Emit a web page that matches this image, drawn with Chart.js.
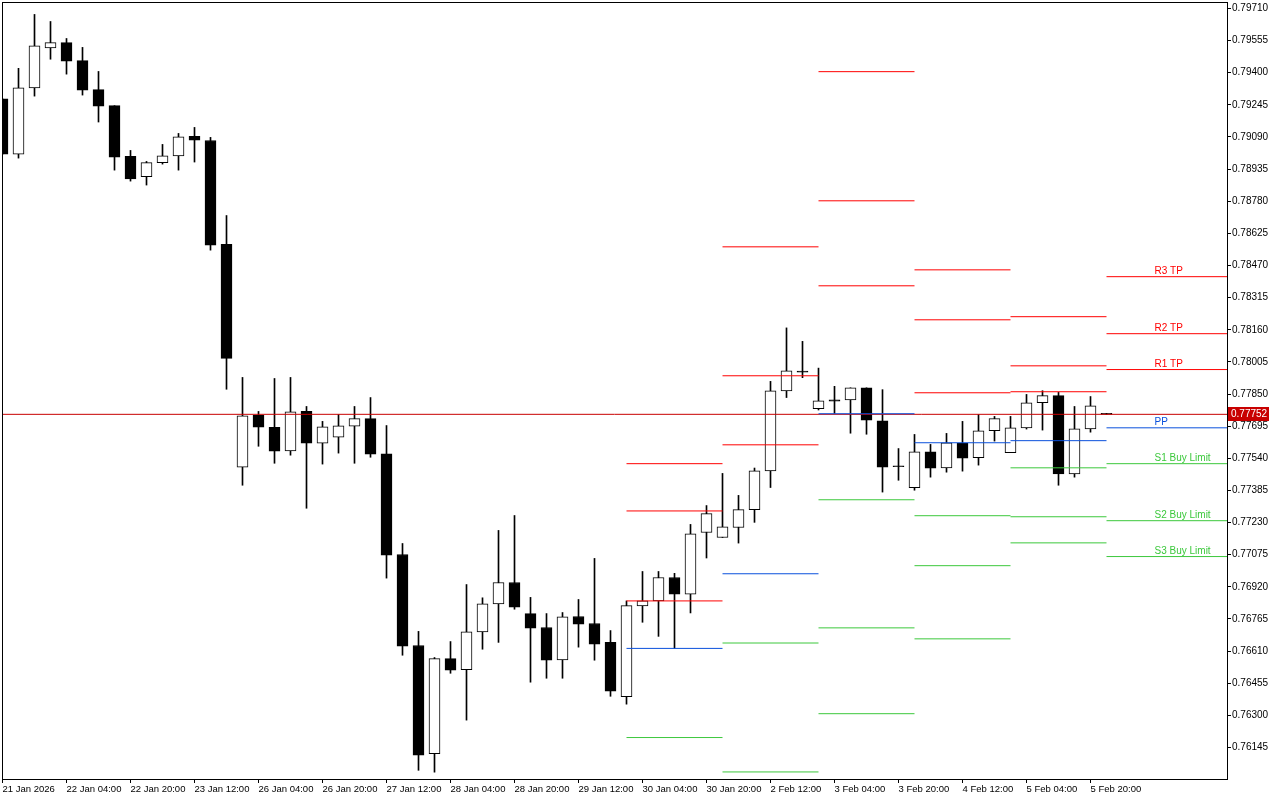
<!DOCTYPE html>
<html>
<head>
<meta charset="utf-8">
<title>H4 pivots</title>
<script src="https://cdn.jsdelivr.net/npm/chart.js@4.4.1/dist/chart.umd.min.js"></script>
<style>
html,body{margin:0;padding:0;background:#fff;}
#wrap{width:1280px;height:800px;position:relative;}
</style>
</head>
<body>
<div id="wrap"><canvas id="c"></canvas></div>
<script>
// ---------- data ----------
// H4 candles, 21 Jan 12:00 .. 6 Feb 00:00 (index = bar number)
const opens  = [.79274,.79007,.79326,.79520,.79545,.79458,.79318,.79241,.78996,.78898,
                .78966,.78999,.79093,.79073,.78572,.77497,.77747,.77689,.77576,.77766,
                .77613,.77642,.77695,.77731,.77562,.77076,.76637,.76115,.76574,.76520,
                .76703,.76838,.76941,.76791,.76724,.76568,.76777,.76743,.76652,.76390,
                .76828,.76852,.76965,.76885,.77182,.77158,.77206,.77292,.77479,.77865,
                .77956,.77779,.77822,.77822,.77880,.77721,.77499,.77398,.77571,.77494,
                .77612,.77543,.77673,.77567,.77686,.77808,.77842,.77465,.77682,.77752];
const highs  = [.79274,.79421,.79681,.79647,.79565,.79522,.79406,.79241,.79025,.78972,
                .79054,.79107,.79136,.79088,.78711,.77930,.77766,.77925,.77930,.77790,
                .77718,.77751,.77790,.77833,.77698,.77129,.76705,.76579,.76656,.76931,
                .76867,.77192,.77264,.76869,.76791,.76796,.76859,.77057,.76709,.76852,
                .76994,.76994,.76985,.77221,.77312,.77467,.77361,.77493,.77911,.78169,
                .78104,.77975,.77887,.77880,.77880,.77871,.77587,.77655,.77607,.77660,
                .77718,.77751,.77742,.77742,.77848,.77866,.77858,.77790,.77838,.77752];
const lows   = [.79007,.78988,.79287,.79465,.79393,.79292,.79162,.78930,.78877,.78858,
                .78959,.78930,.78969,.78544,.77873,.77410,.77598,.77516,.77555,.77299,
                .77512,.77565,.77516,.77545,.76962,.76590,.76035,.76026,.76503,.76277,
                .76619,.76652,.76812,.76460,.76479,.76479,.76629,.76566,.76392,.76354,
                .76749,.76681,.76623,.76794,.77059,.77158,.77131,.77231,.77399,.77833,
                .77929,.77773,.77756,.77661,.77656,.77377,.77434,.77386,.77449,.77473,
                .77478,.77507,.77623,.77567,.77681,.77676,.77410,.77449,.77666,.77752];
const closes = [.79007,.79327,.79530,.79545,.79456,.79316,.79239,.78993,.78887,.78966,
                .78999,.79091,.79075,.78568,.78022,.77745,.77690,.77574,.77764,.77613,
                .77692,.77697,.77731,.77560,.77073,.76634,.76108,.76574,.76518,.76703,
                .76838,.76941,.76822,.76720,.76566,.76775,.76740,.76643,.76417,.76829,
                .76852,.76965,.76885,.77176,.77273,.77209,.77292,.77479,.77865,.77962,
                .77956,.77817,.77816,.77880,.77724,.77497,.77499,.77571,.77492,.77615,
                .77541,.77673,.77731,.77687,.77808,.77842,.77465,.77682,.77793,.77752];

const xTickPos = [0,4,8,12,16,20,24,28,32,36,40,44,48,52,56,60,64,68];
const xLabels  = ["21 Jan 2026","22 Jan 04:00","22 Jan 20:00","23 Jan 12:00","26 Jan 04:00",
                  "26 Jan 20:00","27 Jan 12:00","28 Jan 04:00","28 Jan 20:00","29 Jan 12:00",
                  "30 Jan 04:00","30 Jan 20:00","2 Feb 12:00","3 Feb 04:00","3 Feb 20:00",
                  "4 Feb 12:00","5 Feb 04:00","5 Feb 20:00"];
const yTicks = [0.79710,0.79555,0.79400,0.79245,0.79090,0.78935,0.78780,0.78625,0.78470,0.78315,
                0.78160,0.78005,0.77850,0.77695,0.77540,0.77385,0.77230,0.77075,0.76920,0.76765,
                0.76610,0.76455,0.76300,0.76145];

// daily pivot levels: 30 Jan, 2 Feb, 3 Feb, 4 Feb, 5 Feb, 6 Feb
const dayStart = [39,45,51,57,63,69];
const dayEnd   = [45,51,57,63,69,78];
const r3 = [0.77514,0.78560,0.79405,0.78449,0.78223,0.78416];
const r2 = [0.77286,0.77938,0.78782,0.78208,0.77986,0.78141];
const r1 = [0.76852,0.77605,0.78372,0.77856,0.77861,0.77968];
const pp = [0.76623,0.76983,0.77755,0.77615,0.77625,0.77687];
const s1 = [0.76193,0.76649,0.77340,0.77263,0.77494,0.77514];
const s2 = [null,   0.76027,0.76722,0.77022,0.77258,0.77239];
const s3 = [null,   null,   0.76308,0.76669,0.77132,0.77066];
const levelNames = ["R3 TP","R2 TP","R1 TP","PP","S1 Buy Limit","S2 Buy Limit","S3 Buy Limit"];
const labelBar = 72;
const lastPrice = 0.77752;

// ---------- colours ----------
const RED="#ff0000", BLUE="#0a50dc", GREEN="#3cc83c", PRICE="#c80000";
const FONT='"Liberation Sans", Arial, sans-serif';

// ---------- build ----------
const bars = opens.map((o,i)=>i);
const bodies = bars.map(i=>({x:i,y:[opens[i],closes[i]]}));
const wicks  = bars.map(i=>({x:i,y:[lows[i],highs[i]]}));
// white = up, black = down; a doji is just a black dash
const bodyFill = bars.map(i=>closes[i]>opens[i]?"#ffffff":"#000000");
const bodyMin  = bars.map(i=>i===bars.length-1?2:1);

function segs(levels){
  const pts=[];
  levels.forEach((v,d)=>{
    if(v==null) return;
    pts.push({x:dayStart[d],y:v},{x:dayEnd[d],y:v},{x:dayEnd[d],y:null});
  });
  return pts;
}
function lvl(levels,color){
  return {type:"line",data:segs(levels),borderColor:color,borderWidth:1,pointRadius:0,
          fill:false,tension:0,spanGaps:false,clip:0,order:1};
}
const levels=[r3,r2,r1,pp,s1,s2,s3];
const levelColors=[RED,RED,RED,BLUE,GREEN,GREEN,GREEN];

const overlay={
  id:"overlay",
  afterDraw(chart){
    const {ctx,chartArea:a,scales:{x,y}}=chart;
    ctx.save();
    // level captions on the last day
    ctx.font="10px "+FONT;
    ctx.textAlign="left";ctx.textBaseline="alphabetic";
    levels.forEach((L,k)=>{
      const v=L[L.length-1];
      ctx.fillStyle=levelColors[k];
      ctx.fillText(levelNames[k],x.getPixelForValue(labelBar),Math.round(y.getPixelForValue(v))-3);
    });
    // frame
    ctx.strokeStyle="#000";ctx.lineWidth=1;
    ctx.strokeRect(a.left+0.5,a.top+0.5,a.right-a.left,a.bottom-a.top);
    // price tag
    const py=Math.round(y.getPixelForValue(lastPrice));
    ctx.fillStyle=PRICE;
    ctx.fillRect(a.right+1,py-7,41,14);
    ctx.fillStyle="#fff";ctx.textBaseline="middle";
    ctx.fillText(lastPrice.toFixed(5),a.right+4,py);
    ctx.restore();
  }
};

new Chart(document.getElementById("c"),{
  type:"bar",
  data:{datasets:[
    ...levels.map((L,k)=>lvl(L,levelColors[k])),
    {type:"line",data:[{x:-1,y:lastPrice},{x:80,y:lastPrice}],borderColor:PRICE,borderWidth:1,
     pointRadius:0,fill:false,clip:0,order:1},
    {type:"bar",data:bodies,backgroundColor:bodyFill,borderColor:"#000",borderWidth:1,
     borderSkipped:false,barThickness:11,minBarLength:1,grouped:false,clip:0,order:2},
    {type:"bar",data:wicks,backgroundColor:"#000",borderWidth:0,barThickness:1,
     minBarLength:1,grouped:false,clip:0,order:3}
  ]},
  options:{
    responsive:true,maintainAspectRatio:false,animation:false,
    layout:{padding:{left:2,top:2,right:0,bottom:0}},
    plugins:{legend:{display:false},tooltip:{enabled:false}},
    scales:{
      x:{type:"linear",min:-0.03125,max:76.53125,offset:false,
        afterBuildTicks:s=>{s.ticks=xTickPos.map(v=>({value:v}));},
        afterFit:s=>{s.height=21;s.paddingLeft=0;s.paddingRight=0;},
        grid:{drawOnChartArea:false,drawTicks:true,tickLength:4,color:"#000",offset:false},
        border:{display:false},
        ticks:{autoSkip:false,maxRotation:0,minRotation:0,align:"start",padding:1,color:"#000",
          font:{family:FONT,size:9.5},callback:(v,i)=>xLabels[i]}},
      y:{type:"linear",position:"right",min:0.75993,max:0.79741,
        afterBuildTicks:s=>{s.ticks=yTicks.map(v=>({value:v}));},
        afterFit:s=>{s.width=53;s.paddingTop=0;s.paddingBottom=0;},
        grid:{drawOnChartArea:false,drawTicks:true,tickLength:4,color:"#000"},
        border:{display:false},
        ticks:{padding:1,color:"#000",font:{family:FONT,size:10},callback:v=>v.toFixed(5)}}
    }
  },
  plugins:[overlay]
});
</script>
</body>
</html>
